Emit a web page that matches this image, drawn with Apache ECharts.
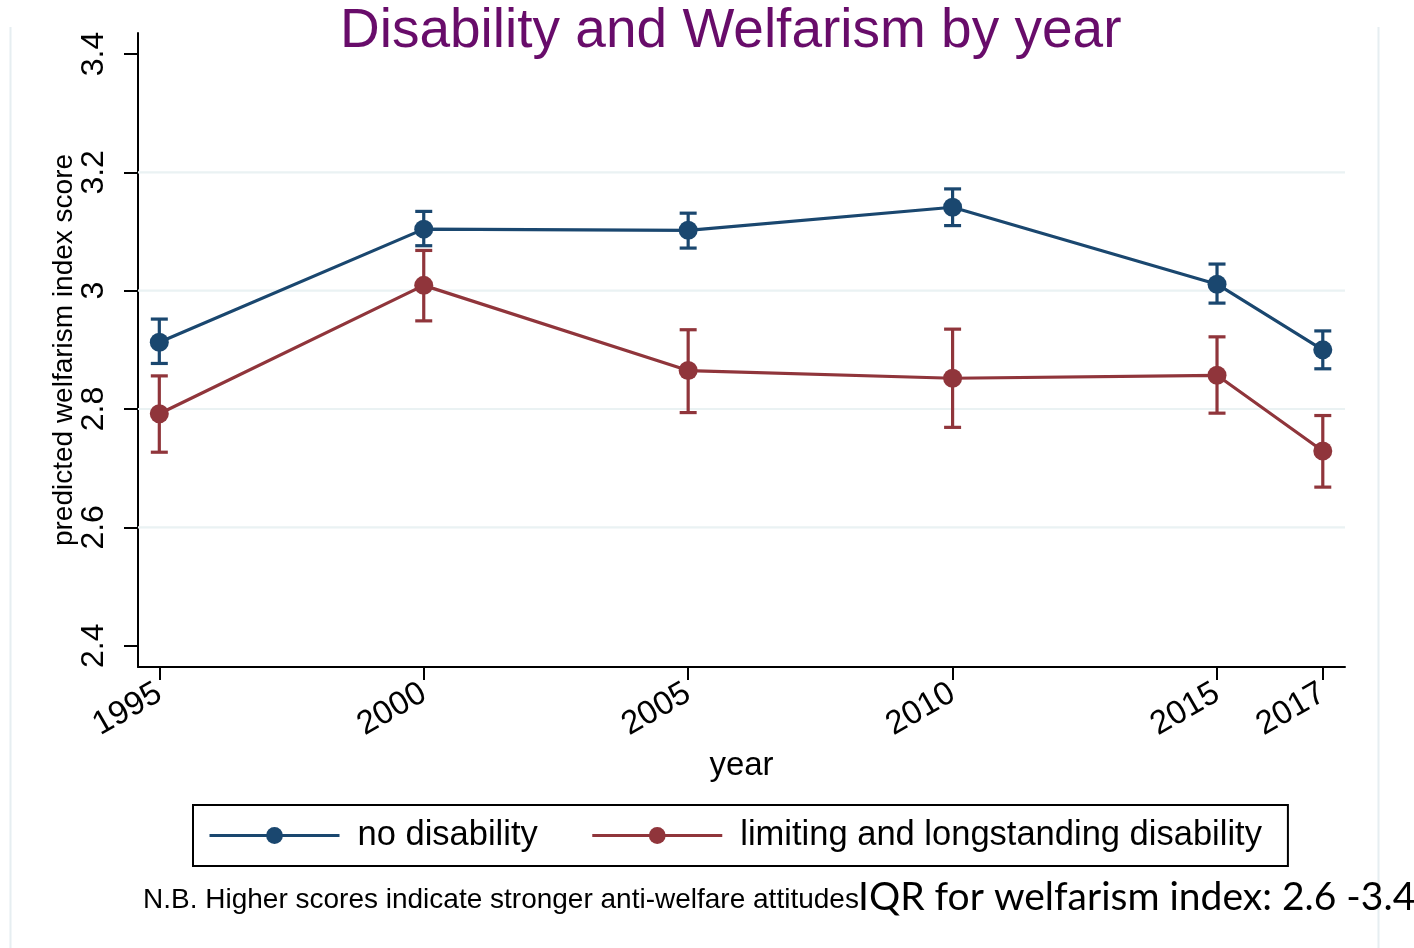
<!DOCTYPE html>
<html><head><meta charset="utf-8">
<script src="https://cdn.jsdelivr.net/npm/echarts@6/dist/echarts.min.js"></script>
<style>html,body{margin:0;padding:0;background:#fff}#c{width:1414px;height:948px}</style>
</head><body><div id="c"></div>
<script>
const years = [1995, 2000, 2005, 2010, 2015, 2017];
const noDisMean = [2.913, 3.104, 3.102, 3.141, 3.011, 2.900];
const noDisLow  = [2.877, 3.076, 3.072, 3.110, 2.979, 2.868];
const noDisHigh = [2.952, 3.134, 3.131, 3.172, 3.045, 2.932];
const disMean = [2.792, 3.009, 2.865, 2.852, 2.857, 2.729];
const disLow  = [2.727, 2.949, 2.794, 2.769, 2.793, 2.668];
const disHigh = [2.856, 3.068, 2.934, 2.935, 2.922, 2.789];
const yTicks = [2.4, 2.6, 2.8, 3.0, 3.2, 3.4];
const gridValues = [2.6, 2.8, 3.0, 3.2];
const seriesNames = ['no disability', 'limiting and longstanding disability'];
const titleText = 'Disability and Welfarism by year';
const yName = 'predicted welfarism index score';
const xName = 'year';
const noteText = 'N.B. Higher scores indicate stronger anti-welfare attitudes';
const iqrText = 'IQR for welfarism index: 2.6 -3.4';

const FF = '"Liberation Sans", Arial, Helvetica, sans-serif';
const BLUE = '#1a476f', RED = '#90353b';

function errRender(params, api) {
  const x = api.value(0), l = api.value(1), h = api.value(2);
  const pl = api.coord([x, l]), ph = api.coord([x, h]);
  const w = 8.5;
  const style = {stroke: api.visual('color'), lineWidth: 3.2};
  return {type: 'group', children: [
    {type: 'line', shape: {x1: pl[0], y1: pl[1], x2: ph[0], y2: ph[1]}, style: style},
    {type: 'line', shape: {x1: pl[0] - w, y1: pl[1], x2: pl[0] + w, y2: pl[1]}, style: style},
    {type: 'line', shape: {x1: ph[0] - w, y1: ph[1], x2: ph[0] + w, y2: ph[1]}, style: style}
  ]};
}

function gridRender(params, api) {
  const cs = params.coordSys;
  const p = api.coord([api.value(0), api.value(1)]);
  return {type: 'line', shape: {x1: cs.x, y1: p[1], x2: cs.x + cs.width, y2: p[1]},
    style: {stroke: '#eaf2f3', lineWidth: 2.2}};
}

const chart = echarts.init(document.getElementById('c'), null, {renderer: 'canvas'});
chart.setOption({
  animation: false,
  backgroundColor: '#fff',
  title: {
    text: titleText, left: 340, top: 4, padding: 0,
    textStyle: {fontFamily: FF, fontSize: 55, fontWeight: 'normal', color: '#680c6a'}
  },
  grid: {left: 138, right: 69, top: 33, bottom: 281, containLabel: false},
  xAxis: {
    type: 'value', min: 1994.597, max: 2017.42,
    name: xName, nameLocation: 'middle', nameGap: 82, nameMoveOverlap: false,
    nameTextStyle: {fontFamily: FF, fontSize: 33, color: '#000'},
    axisLine: {show: true, lineStyle: {color: '#000', width: 2}},
    axisTick: {show: true, length: 13, lineStyle: {color: '#000', width: 2}, customValues: years},
    axisLabel: {customValues: years, rotate: 30, margin: 24, fontFamily: FF, fontSize: 33, color: '#000',
      formatter: v => String(v)},
    splitLine: {show: false}
  },
  yAxis: {
    type: 'value', min: 2.364, max: 3.4355,
    name: yName, nameLocation: 'middle', nameGap: 60, nameMoveOverlap: false,
    nameTextStyle: {fontFamily: FF, fontSize: 28, color: '#000'},
    axisLine: {show: true, lineStyle: {color: '#000', width: 2}},
    axisTick: {show: true, length: 14, lineStyle: {color: '#000', width: 2}, customValues: yTicks},
    axisLabel: {customValues: yTicks, rotate: 90, margin: 28, fontFamily: FF, fontSize: 32, color: '#000',
      formatter: v => String(Math.round(v * 10) / 10)},
    splitLine: {show: false}
  },
  legend: {
    data: seriesNames, left: 193, top: 805, orient: 'horizontal',
    itemWidth: 130, itemHeight: 21, itemGap: 53,
    padding: [13, 26, 13, 15], borderColor: '#000', borderWidth: 2, backgroundColor: '#fff',
    lineStyle: {width: 3},
    textStyle: {fontFamily: FF, fontSize: 34.5, color: '#000', padding: [0, 0, 0, 13]}
  },
  series: [
    {
      type: 'custom', name: 'gridlines', z: 1, silent: true, renderItem: gridRender,
      encode: {x: 0, y: 1},
      data: gridValues.map(v => [1995, v])
    },
    {
      type: 'custom', name: 'ci0', z: 2, silent: true, renderItem: errRender,
      itemStyle: {color: BLUE}, encode: {x: 0, y: [1, 2]},
      data: years.map((y, i) => [y, noDisLow[i], noDisHigh[i]])
    },
    {
      type: 'custom', name: 'ci1', z: 2, silent: true, renderItem: errRender,
      itemStyle: {color: RED}, encode: {x: 0, y: [1, 2]},
      data: years.map((y, i) => [y, disLow[i], disHigh[i]])
    },
    {
      type: 'line', name: seriesNames[0], z: 3, symbol: 'circle', symbolSize: 19,
      itemStyle: {color: BLUE}, lineStyle: {color: BLUE, width: 3.2},
      data: years.map((y, i) => [y, noDisMean[i]])
    },
    {
      type: 'line', name: seriesNames[1], z: 3, symbol: 'circle', symbolSize: 19,
      itemStyle: {color: RED}, lineStyle: {color: RED, width: 3.2},
      data: years.map((y, i) => [y, disMean[i]])
    }
  ],
  graphic: [
    {type: 'line', silent: true, z: 0, shape: {x1: 10.5, y1: 27, x2: 10.5, y2: 948}, style: {stroke: '#e6eef1', lineWidth: 2}},
    {type: 'line', silent: true, z: 0, shape: {x1: 1378.5, y1: 27, x2: 1378.5, y2: 948}, style: {stroke: '#e6eef1', lineWidth: 2}},
    {type: 'text', left: 143, top: 886, silent: true, style: {text: noteText, font: '28px ' + FF, fill: '#000'}},
    {type: 'text', left: 858, top: 878, silent: true, style: {text: iqrText, font: '39px Lato, "Open Sans", sans-serif', fill: '#000'}}
  ]
});
</script>
</body></html>
